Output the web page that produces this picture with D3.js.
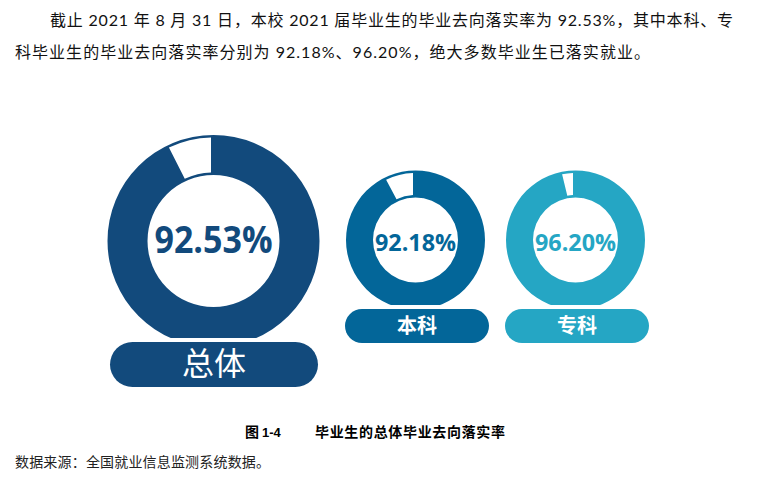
<!DOCTYPE html>
<html>
<head>
<meta charset="utf-8">
<script src="https://cdn.jsdelivr.net/npm/d3@7"></script>
<style>
  html, body { margin: 0; padding: 0; background: #fff; }
  svg { display: block; }
</style>
</head>
<body>
<svg id="chart" width="759" height="493"></svg>
<script>
// ---- data ----
const categories = ["总体", "本科", "专科"];
const rates = [92.53, 92.18, 96.20];
const rateLabels = ["92.53%", "92.18%", "96.20%"];
const paragraphLines = [
  "截止 2021 年 8 月 31 日，本校 2021 届毕业生的毕业去向落实率为 92.53%，其中本科、专",
  "科毕业生的毕业去向落实率分别为 92.18%、96.20%，绝大多数毕业生已落实就业。"
];
const captionNo = "图 1-4";
const captionTitle = "毕业生的总体毕业去向落实率";
const sourceNote = "数据来源：全国就业信息监测系统数据。";

// ---- styles / layout ----
const colors = ["#124A7C", "#036699", "#25A6C4"];
const layout = [
  { cx: 213.5, cy: 241, R: 106, r: 66, labelSize: 38, labelW: 118, labelY: 253,
    pill: { x: 110, y: 342, w: 208, h: 45 }, pillFont: 32, pillWeight: 400, pillTextY: 375 },
  { cx: 415.5, cy: 240, R: 69.5, r: 42.5, labelSize: 24, labelW: 81, labelY: 251,
    pill: { x: 345, y: 309, w: 144, h: 34 }, pillFont: 20, pillWeight: 700, pillTextY: 333 },
  { cx: 575.5, cy: 240, R: 69.5, r: 42.5, labelSize: 24, labelW: 81, labelY: 251,
    pill: { x: 505, y: 309, w: 144, h: 34 }, pillFont: 20, pillWeight: 700, pillTextY: 333 }
];

const svg = d3.select("#chart");
const cjk = "'Noto Sans CJK SC', 'Noto Sans', sans-serif";
const latinCjk = "Lato, 'Noto Sans CJK SC', sans-serif";

// paragraph
svg.append("text")
  .attr("x", 50).attr("y", 26)
  .attr("textLength", 683).attr("lengthAdjust", "spacing")
  .style("font-family", latinCjk).style("font-size", "16px").attr("fill", "#111")
  .text(paragraphLines[0]);
svg.append("text")
  .attr("x", 15).attr("y", 58)
  .attr("textLength", 635).attr("lengthAdjust", "spacing")
  .style("font-family", latinCjk).style("font-size", "16px").attr("fill", "#111")
  .text(paragraphLines[1]);

const pct = d3.scaleLinear().domain([0, 100]).range([0, 2 * Math.PI]);
const pie = d3.pie().sort(null).value(d => d).startAngle(0).endAngle(2 * Math.PI);

categories.forEach((cat, i) => {
  const L = layout[i];
  const g = svg.append("g").attr("transform", `translate(${L.cx},${L.cy})`);
  const slices = pie([rates[i], 100 - rates[i]]);

  // full coloured ring
  g.append("path")
    .attr("d", d3.arc().innerRadius(L.r).outerRadius(L.R)({ startAngle: 0, endAngle: pct(100) }))
    .attr("fill", colors[i]);

  // remaining share: white slice with coloured border
  const inset = 2.5;
  const restArc = d3.arc()
    .innerRadius(L.r + inset).outerRadius(L.R - inset)
    .padRadius(100).padAngle(2 * inset / 100);
  g.append("path")
    .attr("d", restArc(slices[1]))
    .attr("fill", "#fff");

  // centre label
  g.append("text")
    .attr("x", 0).attr("y", L.labelY - L.cy)
    .attr("text-anchor", "middle")
    .attr("textLength", L.labelW).attr("lengthAdjust", "spacingAndGlyphs")
    .style("font-family", "'Open Sans', sans-serif").style("font-weight", 700)
    .style("font-size", L.labelSize + "px")
    .attr("fill", colors[i])
    .text(rateLabels[i]);

  // pill with white outline
  const p = L.pill;
  svg.append("rect")
    .attr("x", p.x - 4).attr("y", p.y - 4).attr("width", p.w + 8).attr("height", p.h + 8)
    .attr("rx", (p.h + 8) / 2).attr("fill", "#fff");
  svg.append("rect")
    .attr("x", p.x).attr("y", p.y).attr("width", p.w).attr("height", p.h)
    .attr("rx", p.h / 2).attr("fill", colors[i]);
  svg.append("text")
    .attr("x", p.x + p.w / 2).attr("y", L.pillTextY)
    .attr("text-anchor", "middle")
    .style("font-family", cjk).style("font-size", L.pillFont + "px")
    .style("font-weight", L.pillWeight)
    .attr("fill", "#fff")
    .text(cat);
});

// caption
svg.append("text")
  .attr("x", 245).attr("y", 437)
  .style("font-family", cjk).style("font-size", "14px").style("font-weight", 700)
  .attr("fill", "#000")
  .text("图");
svg.append("text")
  .attr("x", 262).attr("y", 437)
  .style("font-family", "'Liberation Sans', Arial, sans-serif").style("font-size", "13px").style("font-weight", 700)
  .attr("fill", "#000")
  .text(captionNo.replace("图 ", ""));
svg.append("text")
  .attr("x", 315).attr("y", 437)
  .attr("textLength", 190).attr("lengthAdjust", "spacing")
  .style("font-family", cjk).style("font-size", "14px").style("font-weight", 700)
  .attr("fill", "#000")
  .text(captionTitle);

// source
svg.append("text")
  .attr("x", 15).attr("y", 467)
  .attr("textLength", 255).attr("lengthAdjust", "spacing")
  .style("font-family", cjk).style("font-size", "14px")
  .attr("fill", "#222")
  .text(sourceNote);
</script>
</body>
</html>
